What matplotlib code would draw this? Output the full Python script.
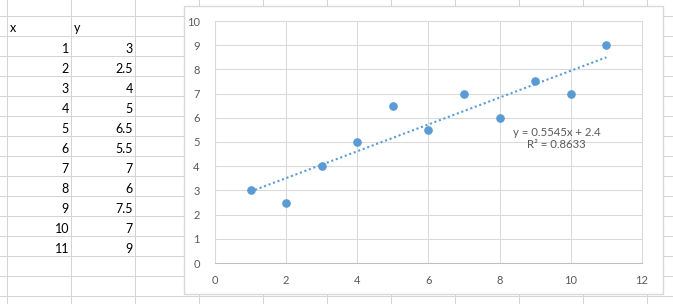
import numpy as np
import matplotlib
matplotlib.use("Agg")
import matplotlib.pyplot as plt
from matplotlib.patches import Rectangle

plt.rcParams['font.family'] = ['Lato', 'DejaVu Sans']

# data from the sheet
x_vals = [1, 2, 3, 4, 5, 6, 7, 8, 9, 10, 11]
y_vals = [3, 2.5, 4, 5, 6.5, 5.5, 7, 6, 7.5, 7, 9]
y_labels = ['3', '2.5', '4', '5', '6.5', '5.5', '7', '6', '7.5', '7', '9']
x_ticks = [0, 2, 4, 6, 8, 10, 12]
y_ticks = [0, 1, 2, 3, 4, 5, 6, 7, 8, 9, 10]

W, H = 673, 304
fig = plt.figure(figsize=(W / 100, H / 100), dpi=100)

# spreadsheet background, pixel coordinates
bg = fig.add_axes([0, 0, 1, 1])
bg.set_xlim(0, W)
bg.set_ylim(H, 0)
bg.axis('off')

grid_col = '#d4d4d4'
px = 0.72
for cx in np.arange(7.3, W, 64):
    bg.plot([cx, cx], [0, H], color=grid_col, lw=px, zorder=1)
for ry in np.arange(16, H, 20):
    bg.plot([0, W], [ry, ry], color=grid_col, lw=px, zorder=1)

txt_col = '#000000'
bg.text(10, 32.5, 'x', fontsize=9, color=txt_col, va='baseline', ha='left')
bg.text(74, 32.5, 'y', fontsize=9, color=txt_col, va='baseline', ha='left')
for i, (xv, yl) in enumerate(zip(x_vals, y_labels)):
    base = 56 + 20 * i - 3
    bg.text(69, base, str(xv), fontsize=9, color=txt_col, va='baseline', ha='right')
    bg.text(133, base, yl, fontsize=9, color=txt_col, va='baseline', ha='right')

# chart area
bg.add_patch(Rectangle((184, 6), 479, 288, facecolor='white',
                       edgecolor='#d9d9d9', lw=1.0, zorder=3))

# plot area
L, R, T, B = 215, 642, 21, 263
ax = fig.add_axes([L / W, (H - B) / H, (R - L) / W, (B - T) / H])
ax.set_zorder(5)
ax.patch.set_alpha(0)

blue = '#5b9bd5'
ax.plot(x_vals, y_vals, 'o', color=blue, markersize=5.2, zorder=4)

# linear trendline
k, b = np.polyfit(x_vals, y_vals, 1)
xs = np.array([min(x_vals), max(x_vals)])
ax.plot(xs, k * xs + b, linestyle=(0, (1, 1.3)), color=blue, lw=1.5, zorder=3)

yhat = k * np.array(x_vals) + b
r2 = 1 - np.sum((np.array(y_vals) - yhat) ** 2) / np.sum((np.array(y_vals) - np.mean(y_vals)) ** 2)
ax.text(9.6, 5.15, 'y = %.4fx + %.1f\nR² = %.4f' % (k, b, r2), fontsize=8.2,
        color='#595959', ha='center', va='center', multialignment='center',
        linespacing=1.15)

ax.set_xlim(0, 12)
ax.set_ylim(0, 10)
ax.set_xticks(x_ticks)
ax.set_yticks(y_ticks)
ax.grid(True, color='#d9d9d9', lw=0.75)
ax.set_axisbelow(True)
for s in ax.spines.values():
    s.set_color('#d9d9d9')
    s.set_linewidth(0.75)
ax.spines['bottom'].set_color('#bfbfbf')
ax.tick_params(length=0, labelsize=8, labelcolor='#595959')
ax.tick_params(axis='y', pad=11)
ax.tick_params(axis='x', pad=9)

fig.savefig('out.png', dpi=100)
